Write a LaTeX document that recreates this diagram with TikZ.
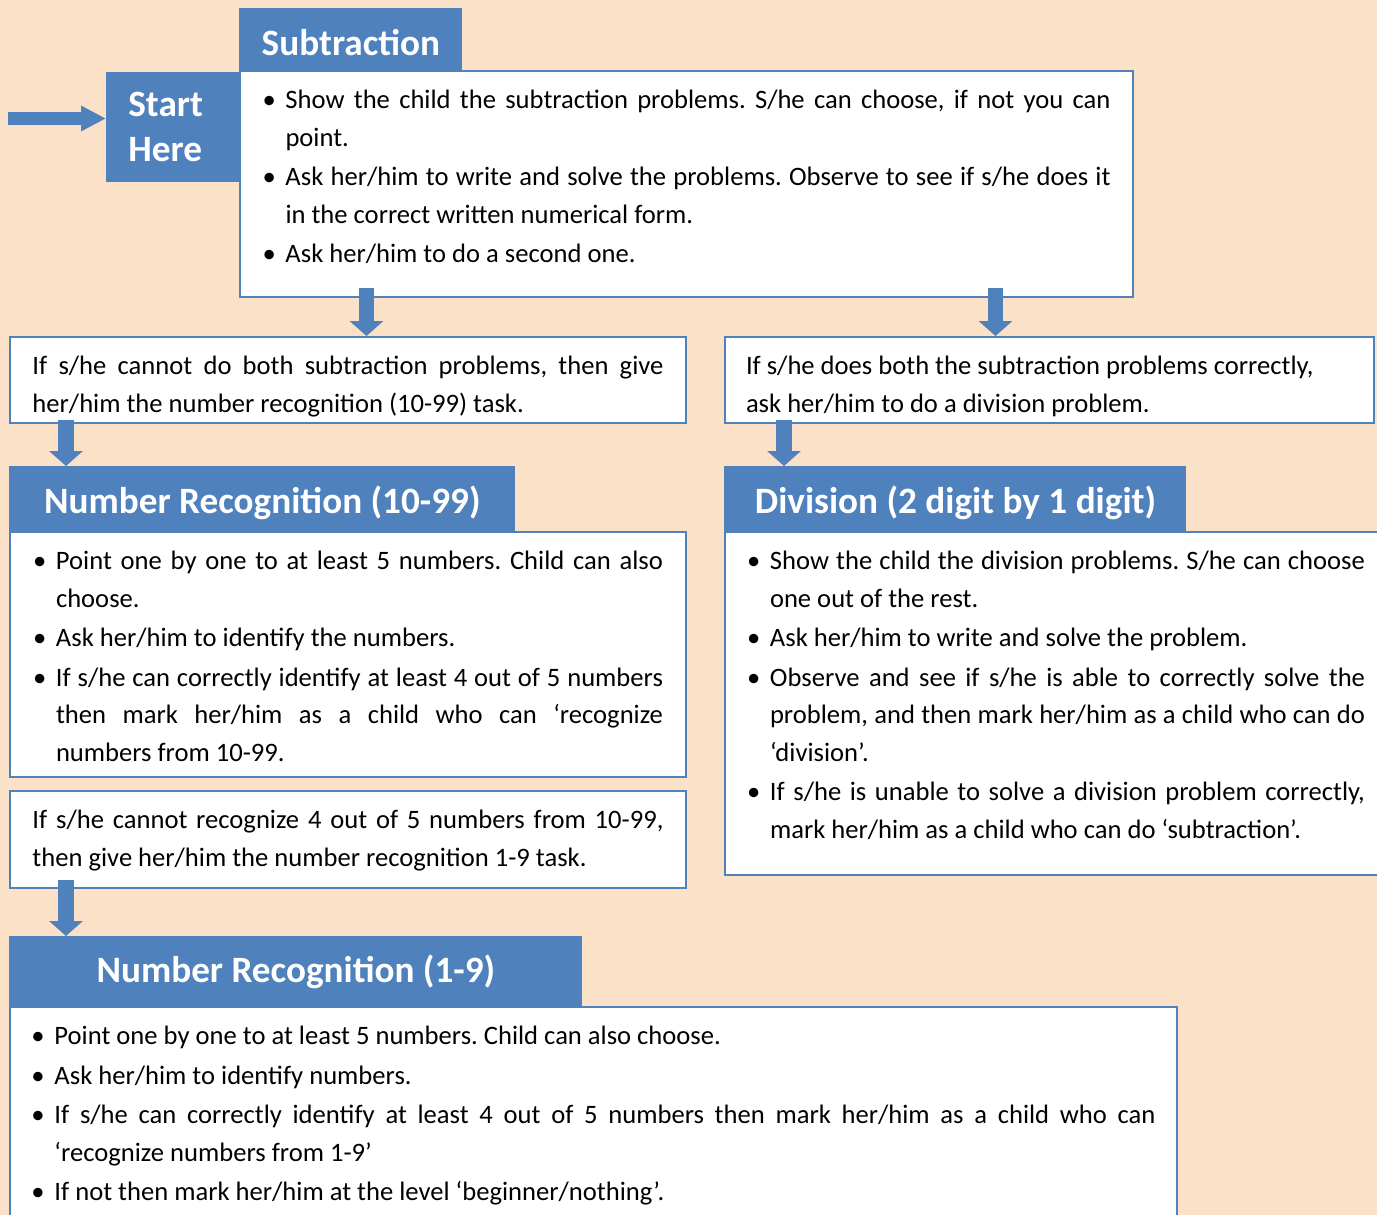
\documentclass[tikz,border=0pt]{standalone}
\usepackage{fontspec}
\setmainfont{Carlito}
\usetikzlibrary{arrows.meta}
\definecolor{peach}{HTML}{FCE1C9}
\definecolor{boxblue}{HTML}{4F81BD}
\newcommand\bodyfont{\fontsize{13.3}{18.75}\selectfont\setlength{\parskip}{1pt}\frenchspacing}
\newcommand\titlefont{\fontsize{18.6}{22.5}\selectfont\bfseries}
\newcommand\bitem[1]{\hangindent=11.5pt\hangafter=1\noindent\makebox[11.5pt][l]{\textbullet}#1\par}

\begin{document}
\begin{tikzpicture}[x=0.5pt,y=-0.5pt,
  titlebox/.style={fill=boxblue,text=white,font=\titlefont,anchor=north west,inner sep=0pt,text height=15pt,text depth=0pt},
  bodybox/.style={draw=boxblue,line width=1pt,fill=white,anchor=north west,inner sep=0pt,align=justify,font=\bodyfont,text height=18.75pt},
  downarrow/.style={draw=boxblue,line width=7.75pt,-{Triangle[width=16.5pt,length=7.5pt]}},
  startarrow/.style={draw=boxblue,line width=6.5pt,-{Triangle[width=12pt,length=12.5pt]}}]
\useasboundingbox (0,0) rectangle (1377,1215);
\clip (0,0) rectangle (1377,1215);
\fill[peach] (0,0) rectangle (1377,1215);
% Subtraction
\node[fill=boxblue,text=white,font=\titlefont,anchor=north west,inner sep=0pt,minimum width=67pt,minimum height=55pt,text width=45pt,align=left] (starthere) at (106,71.5) {Start\\Here};
\node[bodybox,minimum width=446.5pt,text depth=94.25pt,text width=424pt] (subbody) at (239,70) {%
\bitem{Show the child the subtraction problems. S/he can choose, if not you can \linebreak point.}
\bitem{Ask her/him to write and solve the problems. Observe to see if s/he does it \linebreak in the correct written numerical form.}
\bitem{Ask her/him to do a second one.}};
\node[titlebox,minimum width=111.5pt,minimum height=32pt] (subtitle) at (239,8) {Subtraction};
% Outcomes of subtraction
\node[bodybox,minimum width=338pt,text depth=24.25pt,text width=315.5pt] (leftone) at (9,336) {If s/he cannot do both subtraction problems, then give \linebreak her/him the number recognition (10-99) task.};
\node[bodybox,minimum width=324.5pt,text depth=24.25pt,text width=303.5pt] (rightone) at (724,336) {If s/he does both the subtraction problems correctly,\newline ask her/him to do a division problem.};
% Number recognition 10-99
\node[bodybox,minimum width=338pt,text depth=103.75pt,text width=315pt] (nrtwobody) at (9,531) {%
\bitem{Point one by one to at least 5 numbers. Child can also \linebreak choose.}
\bitem{Ask her/him to identify the numbers.}
\bitem{If s/he can correctly identify at least 4 out of 5 numbers \linebreak then mark her/him as a child who can ‘recognize \linebreak numbers from 10-99.}};
\node[titlebox,minimum width=253pt,minimum height=32.5pt] (nrtwotitle) at (9,466) {Number Recognition (10-99)};
% Division
\node[bodybox,minimum width=331pt,text depth=152.75pt,text width=309pt] (divbody) at (724,531) {%
\bitem{Show the child the division problems. S/he can choose \linebreak one out of the rest.}
\bitem{Ask her/him to write and solve the problem.}
\bitem{Observe and see if s/he is able to correctly solve the \linebreak problem, and then mark her/him as a child who can do \linebreak ‘division’.}
\bitem{If s/he is unable to solve a division problem correctly, \linebreak mark her/him as a child who can do ‘subtraction’.}};
\node[titlebox,minimum width=231pt,minimum height=32.5pt] (divtitle) at (724,466) {Division (2 digit by 1 digit)};
% Number recognition 1-9
\node[bodybox,minimum width=338pt,text depth=29.75pt,text width=315.5pt] (lefttwo) at (9,790) {If s/he cannot recognize 4 out of 5 numbers from 10-99, \linebreak then give her/him the number recognition 1-9 task.};
\node[bodybox,minimum width=583.5pt,text depth=91.25pt,text width=562pt] (nronebody) at (9,1006) {%
\bitem{Point one by one to at least 5 numbers. Child can also choose.}
\bitem{Ask her/him to identify numbers.}
\bitem{If s/he can correctly identify at least 4 out of 5 numbers then mark her/him as a child who can \linebreak ‘recognize numbers from 1-9’}
\bitem{If not then mark her/him at the level ‘beginner/nothing’.}};
\node[titlebox,minimum width=286.5pt,minimum height=35pt,text height=11.5pt] (nronetitle) at (9,936) {Number Recognition (1-9)};
% Arrows
\coordinate (entry) at (8,118.5);
\coordinate (subL) at (366.5,288);
\coordinate (subR) at (995.5,288);
\coordinate (leftA) at (66,420);
\coordinate (rightA) at (784,420);
\coordinate (leftB) at (66,880);
\draw[startarrow] (entry) -- (entry -| starthere.west);
\draw[downarrow] (subL) -- (subL |- leftone.north);
\draw[downarrow] (subR) -- (subR |- rightone.north);
\draw[downarrow] (leftA) -- (leftA |- nrtwotitle.north);
\draw[downarrow] (rightA) -- (rightA |- divtitle.north);
\draw[downarrow] (leftB) -- (leftB |- nronetitle.north);
\end{tikzpicture}
\end{document}
